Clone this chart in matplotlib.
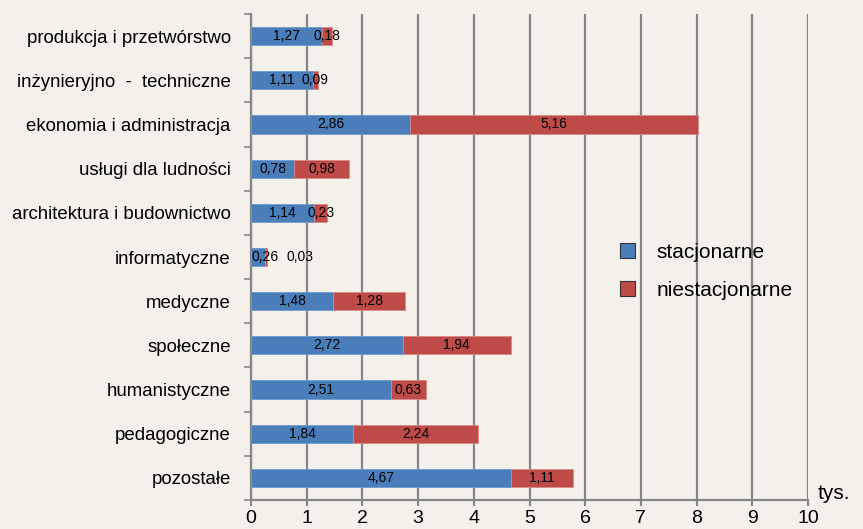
import matplotlib.pyplot as plt
import numpy as np

plt.rcParams['font.family'] = ['Liberation Sans', 'DejaVu Sans']

categories = ['produkcja i przetwórstwo', 'inżynieryjno  -  techniczne',
              'ekonomia i administracja', 'usługi dla ludności',
              'architektura i budownictwo', 'informatyczne', 'medyczne',
              'społeczne', 'humanistyczne', 'pedagogiczne', 'pozostałe']
stacjonarne = [1.27, 1.11, 2.86, 0.78, 1.14, 0.26, 1.48, 2.72, 2.51, 1.84, 4.67]
niestacjonarne = [0.18, 0.09, 5.16, 0.98, 0.23, 0.03, 1.28, 1.94, 0.63, 2.24, 1.11]
xticks = [0, 1, 2, 3, 4, 5, 6, 7, 8, 9, 10]

bg = '#F4F1EA'
blue = '#4A7EBB'
red = '#BE4B48'
grid_c = '#868686'

fig = plt.figure(figsize=(8.63, 5.29), dpi=100, facecolor=bg)
ax = fig.add_axes([251/863, 1 - 500/529, 557/863, 486/529], facecolor=bg)

y = np.arange(len(categories))
h = 0.41
ax.barh(y, stacjonarne, height=h, color=blue, edgecolor='#6E9AD0', linewidth=0.6,
        label='stacjonarne', zorder=3)
ax.barh(y, niestacjonarne, left=stacjonarne, height=h, color=red, edgecolor='#D88A88',
        linewidth=0.6, label='niestacjonarne', zorder=3)

for i in range(len(categories)):
    s = stacjonarne[i]
    n = niestacjonarne[i]
    dx_s, dx_n = 0, 0
    if i == 5:
        dx_s, dx_n = 5, 24
    ax.annotate(f'{s:.2f}'.replace('.', ','), (s / 2, y[i]), xytext=(dx_s, 0),
                textcoords='offset points', ha='center', va='center',
                fontsize=10, zorder=4)
    ax.annotate(f'{n:.2f}'.replace('.', ','), (s + n / 2, y[i]), xytext=(dx_n, 0),
                textcoords='offset points', ha='center', va='center',
                fontsize=10, zorder=4)

ax.set_xlim(0, 10)
ax.set_ylim(len(categories) - 0.5, -0.5)
ax.set_xticks(xticks)
ax.set_xticklabels([str(t) for t in xticks], fontsize=14)
ax.set_yticks(np.arange(len(categories) + 1) - 0.5, minor=False)
ax.set_yticklabels([])
ax.set_yticks(y, minor=True)
ax.set_yticklabels(categories, minor=True, fontsize=13.4)
ax.tick_params(axis='y', which='minor', length=0, pad=14.5)
ax.tick_params(axis='y', which='major', length=5, color=grid_c, width=1.2)
ax.tick_params(axis='x', length=4, color=grid_c, width=1.5, pad=3)

ax.grid(axis='x', color=grid_c, linewidth=1.6, zorder=0)
for side in ['top', 'right']:
    ax.spines[side].set_visible(False)
for side in ['left', 'bottom']:
    ax.spines[side].set_color(grid_c)
    ax.spines[side].set_linewidth(1.6)

ax.text(1.017, -0.006, 'tys.', transform=ax.transAxes, fontsize=15, ha='left', va='bottom')

leg = ax.legend(loc='upper left', bbox_to_anchor=(0.662, 0.529), frameon=False,
                fontsize=15, handlelength=0.75, handleheight=0.75, handletextpad=1.0,
                labelspacing=0.9, borderpad=0, borderaxespad=0)
for p in leg.get_patches():
    p.set_edgecolor('#333333')
    p.set_linewidth(0.8)

fig.savefig('out.png', dpi=100, facecolor=bg)
